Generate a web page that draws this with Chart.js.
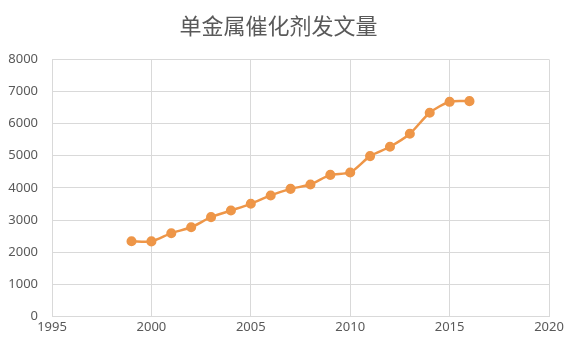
<!DOCTYPE html>
<html>
<head>
<meta charset="utf-8">
<script src="https://cdn.jsdelivr.net/npm/chart.js@4"></script>
<style>
  html, body { margin: 0; padding: 0; background: #fff; }
  #wrap { width: 580px; height: 351px; }
</style>
</head>
<body>
<div id="wrap"><canvas id="chart" width="580" height="351"></canvas></div>
<script>
var years = [1999, 2000, 2001, 2002, 2003, 2004, 2005, 2006, 2007, 2008,
             2009, 2010, 2011, 2012, 2013, 2014, 2015, 2016];
var counts = [2340, 2335, 2590, 2775, 3090, 3295, 3505, 3765, 3970, 4105,
              4405, 4480, 4990, 5280, 5685, 6340, 6680, 6700];
var chartTitle = '单金属催化剂发文量';

var points = years.map(function (y, i) {
    return { x: y, y: counts[i] };
});

var tickFont = { family: "'Noto Sans', 'DejaVu Sans', sans-serif", size: 13 };

new Chart(document.getElementById('chart'), {
    type: 'line',
    data: {
        datasets: [{
            data: points,
            borderColor: '#EE9648',
            backgroundColor: '#EE9648',
            borderWidth: 2.5,
            pointRadius: 3.8,
            pointHoverRadius: 3.8,
            tension: 0.25,
            fill: false
        }]
    },
    options: {
        responsive: false,
        animation: false,
        layout: { padding: { left: 8, right: 31, top: 10, bottom: 13 } },
        plugins: {
            legend: { display: false },
            tooltip: { enabled: false },
            title: {
                display: true,
                text: chartTitle,
                color: '#595959',
                font: { family: "'Noto Sans CJK SC', sans-serif", size: 22, weight: 'normal' },
                padding: { top: 2, bottom: 21 }
            }
        },
        scales: {
            x: {
                type: 'linear',
                min: 1995,
                max: 2020,
                ticks: {
                    stepSize: 5,
                    color: '#595959',
                    font: tickFont,
                    padding: 3,
                    callback: function (v) { return String(v); }
                },
                grid: { color: '#d9d9d9', drawTicks: false },
                border: { color: '#d9d9d9' },
                afterFit: function (scale) {
                    scale.paddingLeft = 0;
                    scale.paddingRight = 0;
                }
            },
            y: {
                min: 0,
                max: 8000,
                ticks: {
                    stepSize: 1000,
                    color: '#595959',
                    font: tickFont,
                    padding: 14,
                    callback: function (v) { return String(v); }
                },
                grid: { color: '#d9d9d9', drawTicks: false },
                border: { color: '#d9d9d9' },
                afterFit: function (scale) {
                    // fixed width so the plot starts where the reference does
                    scale.width = 44;
                }
            }
        }
    }
});
</script>
</body>
</html>
